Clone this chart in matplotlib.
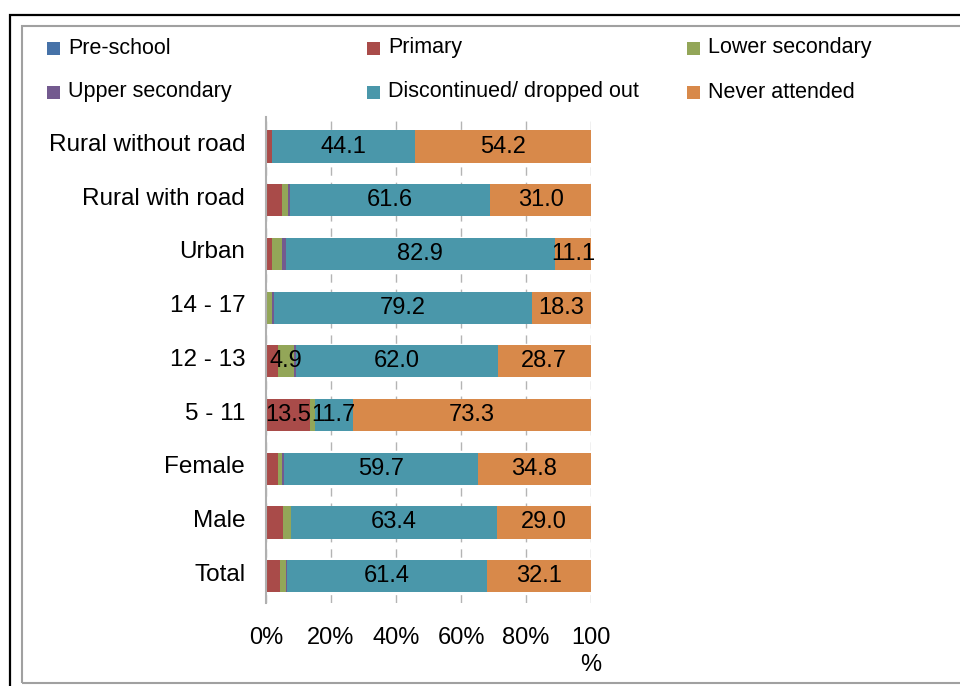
import numpy as np
import matplotlib
matplotlib.use('Agg')
import matplotlib.pyplot as plt
import matplotlib.transforms as mtransforms
from matplotlib.patches import Rectangle

plt.rcParams['font.family'] = ['Liberation Sans', 'DejaVu Sans']

# Categories, top to bottom as shown
categories = ['Rural without road', 'Rural with road', 'Urban', '14 - 17', '12 - 13',
              '5 - 11', 'Female', 'Male', 'Total']

pre_school = [0, 0, 0, 0, 0, 0, 0, 0, 0]
primary = [1.7, 5.0, 1.7, 0, 3.8, 13.5, 3.7, 5.1, 4.2]
lower_secondary = [0, 1.8, 3.1, 1.9, 4.9, 1.5, 1.2, 2.5, 1.8]
upper_secondary = [0, 0.6, 1.2, 0.6, 0.6, 0, 0.6, 0, 0.5]
dropped_out = [44.1, 61.6, 82.9, 79.2, 62.0, 11.7, 59.7, 63.4, 61.4]
never_attended = [54.2, 31.0, 11.1, 18.3, 28.7, 73.3, 34.8, 29.0, 32.1]

series_names = ['Pre-school', 'Primary', 'Lower secondary',
                'Upper secondary', 'Discontinued/ dropped out', 'Never attended']
series = [pre_school, primary, lower_secondary, upper_secondary, dropped_out, never_attended]
colors = ['#4672A8', '#A94B49', '#93A658', '#735A8F', '#4A97AA', '#D8894A']

# which segments carry a value label
labelled = [
    [False] * 9,
    [False, False, False, False, False, True, False, False, False],
    [False, False, False, False, True, False, False, False, False],
    [False] * 9,
    [True] * 9,
    [True] * 9,
]

fig = plt.figure(figsize=(9.6, 6.86), dpi=100)
W, H = 960, 686

# frame decorations
fig.add_artist(Rectangle((10 / W, -0.1), 1.2, 1 - 15 / H + 0.1, transform=fig.transFigure,
                         fill=False, edgecolor='black', linewidth=1.6))
fig.add_artist(Rectangle((22 / W, 1 - 683 / H), 1.2, (683 - 26) / H, transform=fig.transFigure,
                         fill=False, edgecolor='#A0A0A0', linewidth=1.5))

ax = fig.add_axes([266 / W, 1 - 603 / H, (591 - 266) / W, (603 - 117) / H])

y = np.arange(len(categories))
left = np.zeros(len(categories))
for name, vals, col, flags in zip(series_names, series, colors, labelled):
    vals = np.array(vals, dtype=float)
    ax.barh(y, vals, left=left, height=0.6, color=col, zorder=3)
    for i, (v, f) in enumerate(zip(vals, flags)):
        if f:
            ax.text(left[i] + v / 2, y[i], f'{v:.1f}', ha='center', va='center',
                    fontsize=17, color='black', zorder=4)
    left += vals

ax.set_ylim(len(categories) - 0.5, -0.55)
ax.set_xlim(0, 100)
ax.set_yticks(y)
ax.set_yticklabels(categories, fontsize=17.5)
ax.set_xticks([0, 20, 40, 60, 80, 100])
ax.set_xticklabels(['0%', '20%', '40%', '60%', '80%', '100\n%'], fontsize=17, va='top',
                   linespacing=1.3)
ax.tick_params(axis='x', length=0, pad=17)
ax.tick_params(axis='y', length=0, pad=15)
shift = mtransforms.ScaledTranslation(0, 4 / 100, fig.dpi_scale_trans)
for lab in ax.get_yticklabels():
    lab.set_transform(lab.get_transform() + shift)
for s in ['top', 'right', 'bottom']:
    ax.spines[s].set_visible(False)
ax.spines['left'].set_color('#B0B0B0')
ax.spines['left'].set_linewidth(1.5)
ax.spines['left'].set_zorder(5)
ax.xaxis.grid(True, color='#B4B4B4', linestyle=(0, (6, 5)), linewidth=1.0, zorder=0)
ax.set_axisbelow(True)

# legend, three columns by two rows
leg_x = [47, 367, 687]
leg_y = [48, 92]
for k, (name, col) in enumerate(zip(series_names, colors)):
    r, c = divmod(k, 3)
    px, py = leg_x[c], leg_y[r]
    fig.add_artist(Rectangle((px / W, 1 - (py + 6.5) / H), 13 / W, 13 / H,
                             transform=fig.transFigure, facecolor=col, edgecolor='none'))
    fig.text((px + 21) / W, 1 - py / H, name, fontsize=15.5, va='center', ha='left')

fig.savefig('out.png', dpi=100)
